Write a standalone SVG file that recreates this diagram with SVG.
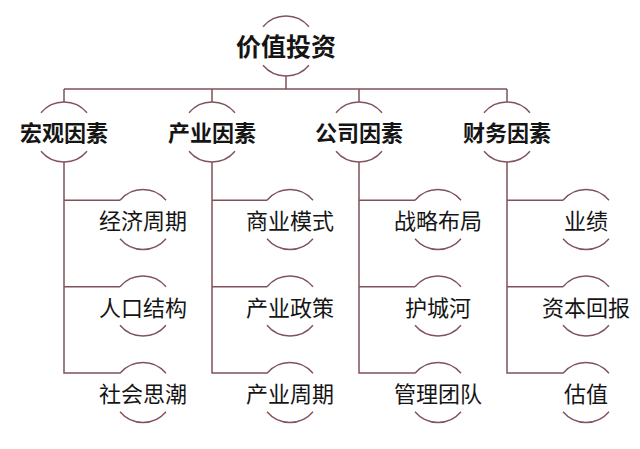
<svg xmlns="http://www.w3.org/2000/svg" width="640" height="449" viewBox="0 0 640 449">
<style>
.ln{fill:none;stroke:#80525a;stroke-width:1.5}
.arc{fill:none;stroke:#80525a;stroke-width:1.4}
.t{font-family:"Noto Sans CJK SC","Noto Sans CJK JP",sans-serif;fill:#151515;text-anchor:middle}
.b{font-weight:bold;font-size:22px}
.top{font-weight:bold;font-size:25px}
.s{font-size:22px}
</style>
<defs>
<g id="ring">
<path class="arc" d="M-23 -19.3 A30 30 0 0 1 23 -19.3"/>
<path class="arc" d="M-23 19.3 A30 30 0 0 0 23 19.3"/>
</g>
</defs>
<rect width="640" height="449" fill="#ffffff"/>
<g id="connectors">
<path class="ln" d="M286 76 V89 M64 89 H507 M64 89 V102 M212 89 V102 M359 89 V102 M507 89 V102"/>
<path class="ln" d="M64 162 V373 H120 M64 200.2 H120 M64 286.7 H120"/>
<path class="ln" d="M212 162 V373 H267 M212 200.2 H267 M212 286.7 H267"/>
<path class="ln" d="M359 162 V373 H415 M359 200.2 H415 M359 286.7 H415"/>
<path class="ln" d="M507 162 V373 H563 M507 200.2 H563 M507 286.7 H563"/>
</g>
<g id="root"><use href="#ring" x="286" y="46"/><text class="t top" x="286" y="55.5">价值投资</text></g>
<g id="macro"><use href="#ring" x="64" y="132"/><text class="t b" x="64" y="140.5">宏观因素</text></g>
<g id="industry"><use href="#ring" x="212" y="132"/><text class="t b" x="212" y="140.5">产业因素</text></g>
<g id="company"><use href="#ring" x="359" y="132"/><text class="t b" x="359" y="140.5">公司因素</text></g>
<g id="finance"><use href="#ring" x="507" y="132"/><text class="t b" x="507" y="140.5">财务因素</text></g>
<g id="m1"><use href="#ring" x="143" y="219.5"/><text class="t s" x="143" y="229">经济周期</text></g>
<g id="m2"><use href="#ring" x="143" y="306"/><text class="t s" x="143" y="315.5">人口结构</text></g>
<g id="m3"><use href="#ring" x="143" y="392.5"/><text class="t s" x="143" y="402">社会思潮</text></g>
<g id="i1"><use href="#ring" x="290" y="219.5"/><text class="t s" x="290" y="229">商业模式</text></g>
<g id="i2"><use href="#ring" x="290" y="306"/><text class="t s" x="290" y="315.5">产业政策</text></g>
<g id="i3"><use href="#ring" x="290" y="392.5"/><text class="t s" x="290" y="402">产业周期</text></g>
<g id="c1"><use href="#ring" x="438" y="219.5"/><text class="t s" x="438" y="229">战略布局</text></g>
<g id="c2"><use href="#ring" x="438" y="306"/><text class="t s" x="438" y="315.5">护城河</text></g>
<g id="c3"><use href="#ring" x="438" y="392.5"/><text class="t s" x="438" y="402">管理团队</text></g>
<g id="f1"><use href="#ring" x="586" y="219.5"/><text class="t s" x="586" y="229">业绩</text></g>
<g id="f2"><use href="#ring" x="586" y="306"/><text class="t s" x="586" y="315.5">资本回报</text></g>
<g id="f3"><use href="#ring" x="586" y="392.5"/><text class="t s" x="586" y="402">估值</text></g>
</svg>
